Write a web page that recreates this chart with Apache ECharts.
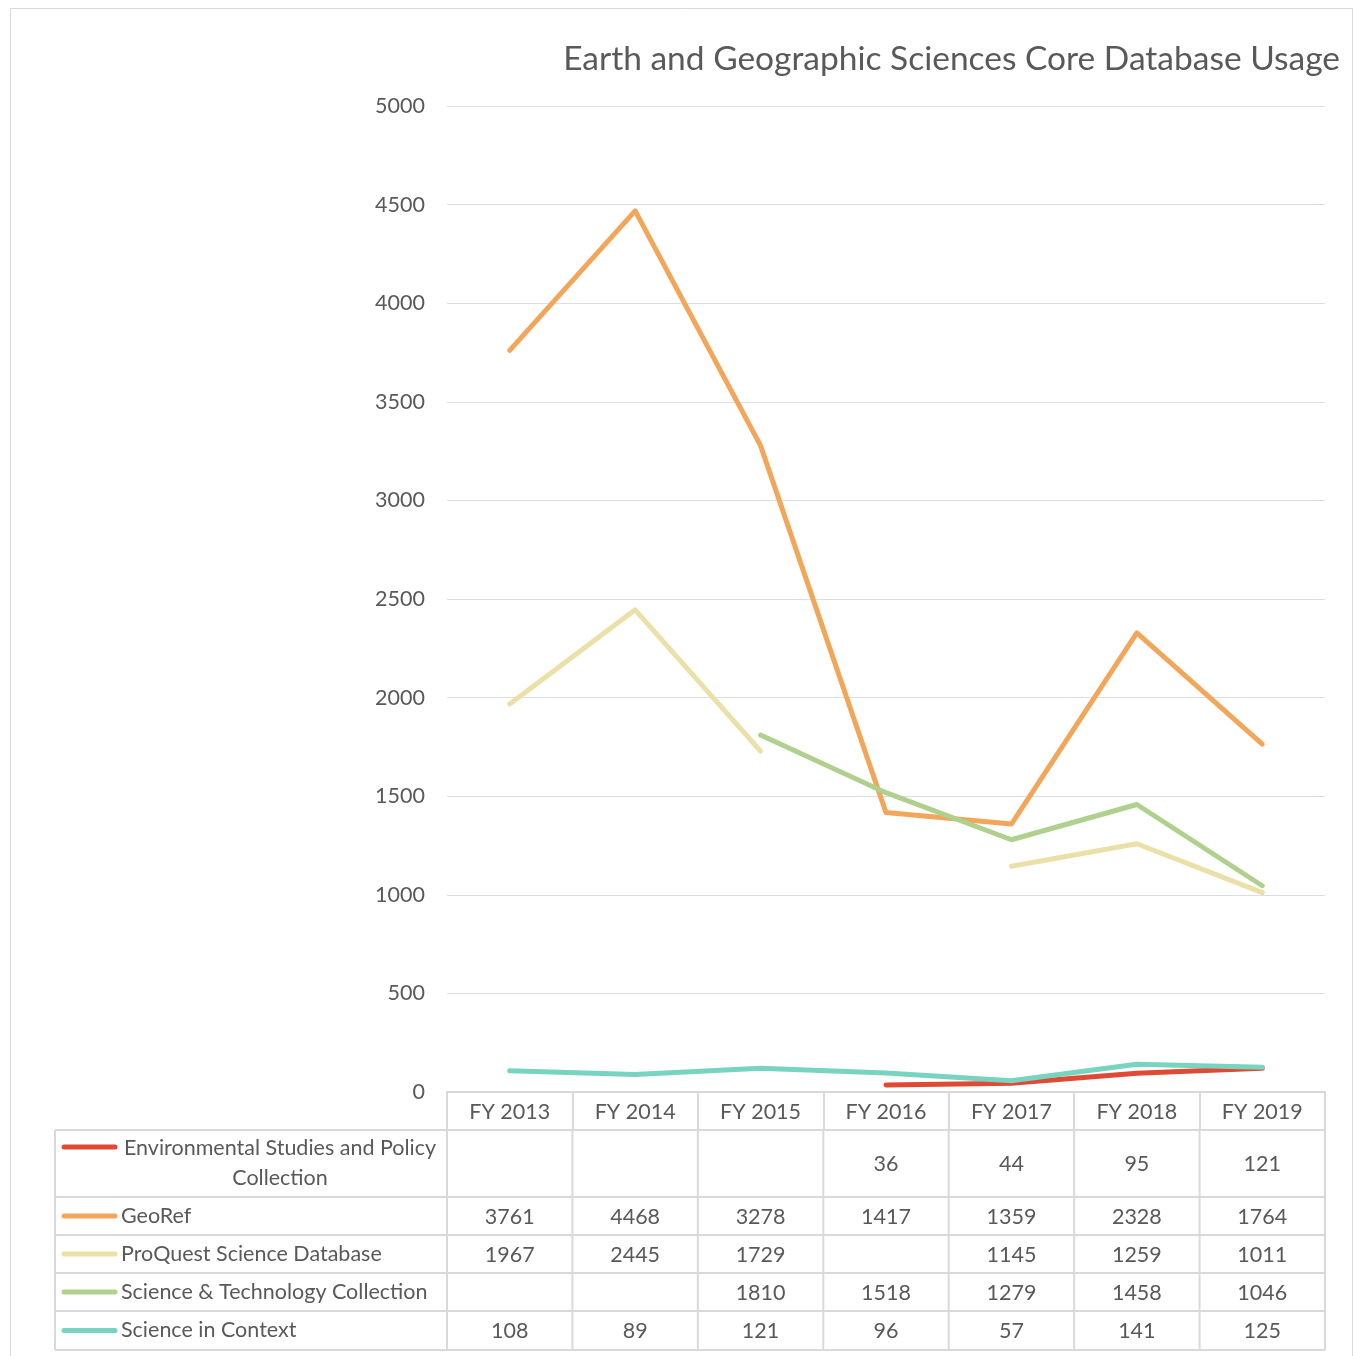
<!DOCTYPE html>
<html>
<head>
<meta charset="utf-8">
<script src="https://cdn.jsdelivr.net/npm/echarts@6/dist/echarts.min.js"></script>
<style>
html,body{margin:0;padding:0;background:#fff;}
#chart{width:1355px;height:1356px;}
</style>
</head>
<body>
<div id="chart"></div>
<script>
const categories = ['FY 2013','FY 2014','FY 2015','FY 2016','FY 2017','FY 2018','FY 2019'];
const seriesNames = ['Environmental Studies and Policy Collection','GeoRef','ProQuest Science Database','Science & Technology Collection','Science in Context'];
const envValues = [null,null,null,36,44,95,121];
const geoRefValues = [3761,4468,3278,1417,1359,2328,1764];
const proQuestValues = [1967,2445,1729,null,1145,1259,1011];
const sciTechValues = [null,null,1810,1518,1279,1458,1046];
const sicValues = [108,89,121,96,57,141,125];
const seriesColors = ['#e04a35','#f2a65a','#ebe0a8','#b0d08e','#78d3bf'];
const titleText = 'Earth and Geographic Sciences Core Database Usage';

const allValues = [envValues, geoRefValues, proQuestValues, sciTechValues, sicValues];
const FONT = 'Lato';
const TXT = '#595959';
const GRIDC = '#d9d9d9';
const FS = 21.5;

const gridLeft = 447, gridRight = 1325, gridTop = 106, gridBottom = 1092;
const chart = echarts.init(document.getElementById('chart'), null, {renderer:'canvas'});

chart.setOption({
  animation:false,
  backgroundColor:'#fff',
  textStyle:{fontFamily:FONT},
  title:{text:titleText, right:10, top:37, textStyle:{fontFamily:FONT, fontSize:33.5, fontWeight:'normal', color:TXT}},
  grid:{left:gridLeft, right:1355-gridRight, top:gridTop, bottom:1356-gridBottom, containLabel:false},
  xAxis:{type:'category', data:categories, boundaryGap:true,
    axisLine:{lineStyle:{color:GRIDC, width:2}},
    axisTick:{show:true, length:38, lineStyle:{color:GRIDC, width:2}},
    axisLabel:{color:TXT, fontSize:FS, fontFamily:FONT, margin:9}},
  yAxis:{type:'value', min:0, max:5000, interval:500,
    axisLine:{show:false}, axisTick:{show:false},
    axisLabel:{color:TXT, fontSize:FS, fontFamily:FONT, margin:22, formatter:v=>String(v)}},
  series: seriesNames.map((n,i)=>({name:n, type:'line', data:allValues[i], showSymbol:false, symbol:'none',
    lineStyle:{color:seriesColors[i], width:5, cap:'round', join:'round'}, itemStyle:{color:seriesColors[i]}, z:2+i}))
});

// data table below the chart
const colW = (gridRight-gridLeft)/categories.length;
const rowBounds = [1130,1197,1235,1273,1311,1350];
const tableLeft = 55;
const g = [];
g.push({type:'rect', shape:{x:10.5,y:8.5,width:1342,height:1360}, style:{fill:null, stroke:GRIDC, lineWidth:1}, silent:true});
rowBounds.forEach(y=>{
  g.push({type:'line', shape:{x1:tableLeft,y1:y,x2:gridRight,y2:y}, style:{stroke:GRIDC, lineWidth:2}});
});
g.push({type:'line', shape:{x1:tableLeft,y1:rowBounds[0],x2:tableLeft,y2:rowBounds[rowBounds.length-1]}, style:{stroke:GRIDC, lineWidth:2}});
for(let c=0;c<=categories.length;c++){
  const x = gridLeft + c*colW;
  g.push({type:'line', shape:{x1:x,y1:rowBounds[0],x2:x,y2:rowBounds[rowBounds.length-1]}, style:{stroke:GRIDC, lineWidth:2}});
}
seriesNames.forEach((name,r)=>{
  const y0 = rowBounds[r], y1 = rowBounds[r+1], yc=(y0+y1)/2;
  const multi = r===0;
  const keyY = multi ? y0+17 : yc;
  g.push({type:'line', shape:{x1:64,y1:keyY,x2:115,y2:keyY}, style:{stroke:seriesColors[r], lineWidth:5, lineCap:'round'}});
  if(multi){
    g.push({type:'text', style:{text:'Environmental Studies and Policy\nCollection', x:280, y:yc, align:'center', verticalAlign:'middle', fill:TXT, font:FS+'px '+FONT, lineHeight:30}});
  } else {
    g.push({type:'text', style:{text:name, x:121, y:yc, align:'left', verticalAlign:'middle', fill:TXT, font:FS+'px '+FONT}});
  }
  allValues[r].forEach((v,c)=>{
    if(v===null) return;
    const x = chart.convertToPixel({xAxisIndex:0}, categories[c]);
    g.push({type:'text', style:{text:String(v), x:x, y:yc+1, align:'center', verticalAlign:'middle', fill:TXT, font:FS+'px '+FONT}});
  });
});
chart.setOption({graphic:g});
</script>
</body>
</html>
